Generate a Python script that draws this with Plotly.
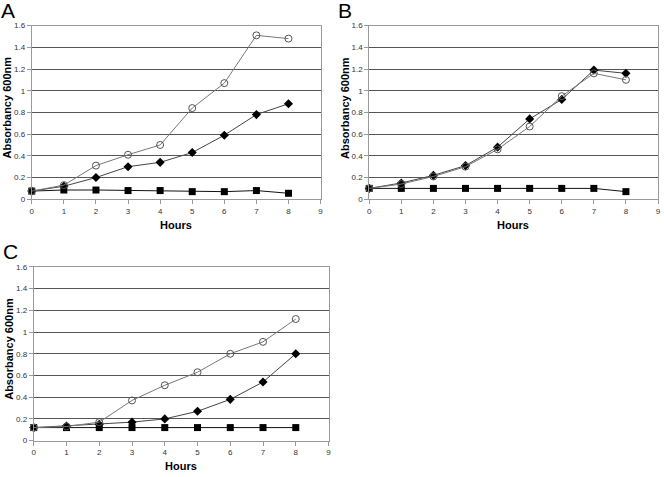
import plotly.graph_objects as go

hours = [0, 1, 2, 3, 4, 5, 6, 7, 8]

a_circle = [0.075, 0.13, 0.31, 0.41, 0.50, 0.84, 1.07, 1.51, 1.48]
a_diamond = [0.075, 0.12, 0.20, 0.30, 0.34, 0.43, 0.59, 0.78, 0.88]
a_square = [0.075, 0.085, 0.085, 0.08, 0.08, 0.07, 0.07, 0.08, 0.055]

b_circle = [0.10, 0.14, 0.21, 0.30, 0.46, 0.67, 0.95, 1.16, 1.10]
b_diamond = [0.10, 0.15, 0.22, 0.31, 0.48, 0.74, 0.92, 1.19, 1.16]
b_square = [0.10, 0.10, 0.10, 0.10, 0.10, 0.10, 0.10, 0.10, 0.07]

c_circle = [0.12, 0.13, 0.17, 0.37, 0.51, 0.63, 0.80, 0.91, 1.12]
c_diamond = [0.12, 0.135, 0.15, 0.17, 0.20, 0.27, 0.38, 0.54, 0.80]
c_square = [0.12, 0.12, 0.12, 0.12, 0.12, 0.12, 0.12, 0.12, 0.12]

x_ticks = [0, 1, 2, 3, 4, 5, 6, 7, 8, 9]
y_ticks = [0, 0.2, 0.4, 0.6, 0.8, 1.0, 1.2, 1.4, 1.6]
y_tick_labels = ["0", "0.2", "0.4", "0.6", "0.8", "1", "1.2", "1.4", "1.6"]

panels = [
    ("A", a_circle, a_diamond, a_square),
    ("B", b_circle, b_diamond, b_square),
    ("C", c_circle, c_diamond, c_square),
]

W, H = 664, 477
# plot areas in pixels: (left, right, top, bottom)
boxes = [(30, 321, 22, 199), (370, 661, 22, 199), (32, 329, 268, 445)]

fig = go.Figure()
FONT = "Liberation Sans, Arial, sans-serif"

for i, (name, circ, diam, sq) in enumerate(panels):
    sfx = "" if i == 0 else str(i + 1)
    xa, ya = "x" + sfx, "y" + sfx
    fig.add_trace(go.Scatter(x=hours, y=sq, mode="lines+markers", xaxis=xa, yaxis=ya,
                             line=dict(color="#111", width=1),
                             marker=dict(symbol="square", size=7, color="black"),
                             showlegend=False, cliponaxis=False))
    fig.add_trace(go.Scatter(x=hours, y=diam, mode="lines+markers", xaxis=xa, yaxis=ya,
                             line=dict(color="#444", width=1),
                             marker=dict(symbol="diamond", size=7, color="black"),
                             showlegend=False, cliponaxis=False))
    fig.add_trace(go.Scatter(x=hours, y=circ, mode="lines+markers", xaxis=xa, yaxis=ya,
                             line=dict(color="#777", width=1),
                             marker=dict(symbol="circle-open", size=7, color="#555",
                                         line=dict(width=1, color="#555")),
                             showlegend=False, cliponaxis=False))
    l, r, t, b = boxes[i]
    fig.update_layout(**{
        "xaxis" + sfx: dict(domain=[l / W, r / W], range=[0, 9], tickvals=x_ticks,
                            showgrid=False, zeroline=False, showline=True, linecolor="#999",
                            linewidth=1, mirror=True, ticks="outside", ticklen=4,
                            tickcolor="#999", anchor=ya,
                            tickfont=dict(family=FONT, size=8, color="#333")),
        "yaxis" + sfx: dict(domain=[1 - b / H, 1 - t / H], range=[0, 1.6], tickvals=y_ticks,
                            ticktext=y_tick_labels, showgrid=True, gridcolor="#555",
                            gridwidth=1, zeroline=False, showline=True, linecolor="#999",
                            linewidth=1, mirror=True, ticks="outside", ticklen=4,
                            tickcolor="#999", anchor=xa,
                            tickfont=dict(family=FONT, size=8, color="#333")),
    })
    # panel letter
    fig.add_annotation(text=name, xref="paper", yref="paper", x=(l - 33) / W,
                       y=1 - (t - 22 - 7) / H,
                       xanchor="left", yanchor="top", showarrow=False,
                       font=dict(family=FONT, size=21, color="black"))
    # y title
    fig.add_annotation(text="<b>Absorbancy 600nm</b>", xref="paper", yref="paper",
                       x=(l - 25) / W, y=1 - ((t + b) / 2 - 5) / H, textangle=-90,
                       xanchor="center", yanchor="middle", showarrow=False,
                       font=dict(family=FONT, size=11, color="black"))
    # x title
    fig.add_annotation(text="<b>Hours</b>", xref="paper", yref="paper",
                       x=(l + r) / 2 / W - 0.5 / W, y=1 - (b + 26) / H,
                       xanchor="center", yanchor="middle", showarrow=False,
                       font=dict(family=FONT, size=11, color="black"))

fig.update_layout(width=W, height=H, margin=dict(l=0, r=0, t=0, b=0),
                  paper_bgcolor="white", plot_bgcolor="white", showlegend=False)

fig.write_html("out.html", config={"displayModeBar": False},
               post_script="document.body.style.margin='0';document.body.style.padding='0';")
